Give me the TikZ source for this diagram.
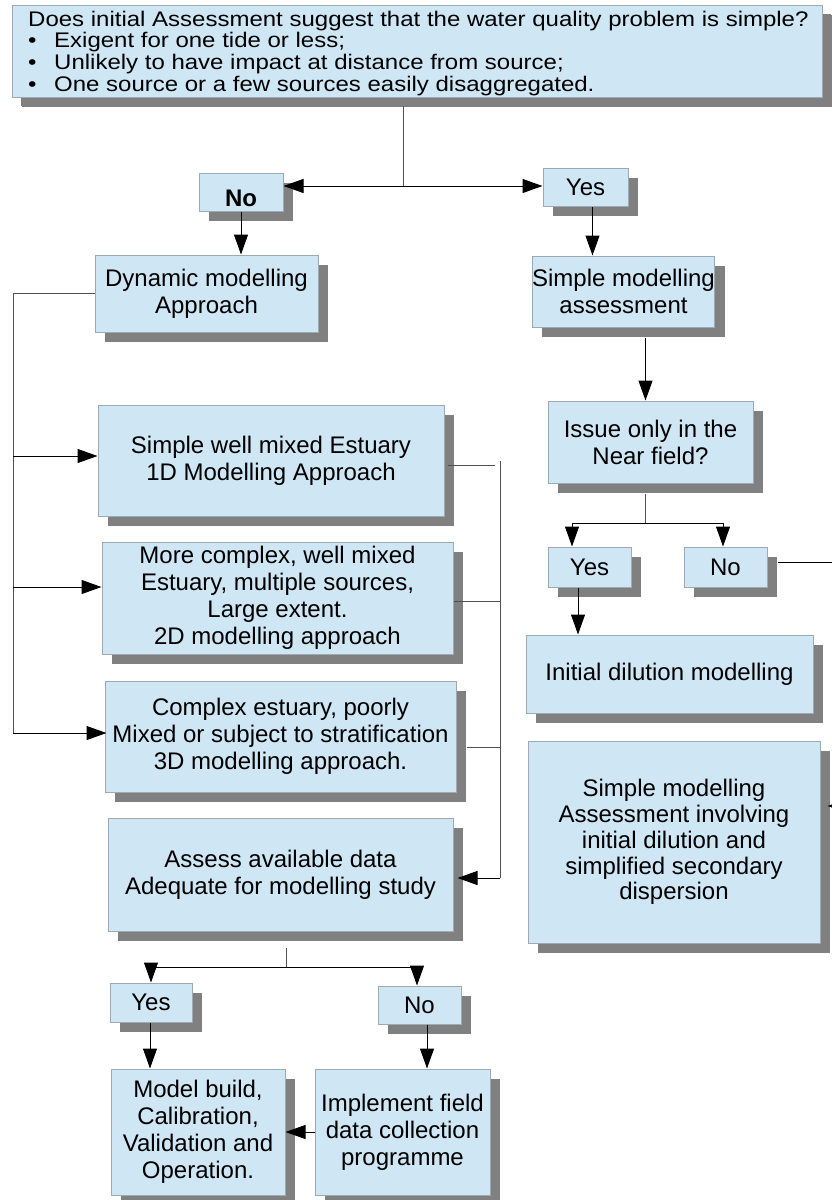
\documentclass[tikz,border=0pt]{standalone}
\usepackage{fontspec}
\usepackage{graphicx}
\setmainfont{Liberation Sans}
\usetikzlibrary{shadows,arrows.meta}
\definecolor{boxfill}{HTML}{CFE6F4}
\definecolor{boxline}{HTML}{9DA9B3}
\definecolor{shade}{HTML}{808080}
\definecolor{linegray}{HTML}{505050}
\begin{document}
\begin{tikzpicture}[x=1pt,y=-1pt,
  box/.style={draw=boxline, fill=boxfill, line width=1pt, inner sep=0pt, align=center,
    font=\fontsize{24}{27}\selectfont,
    drop shadow={shadow xshift=10pt, shadow yshift=-10pt, fill=shade, opacity=1}},
  arr/.style={-{Triangle[length=20pt,width=14pt]}, black, line width=1pt},
  ln/.style={draw=linegray, line width=1pt},
  ]
\useasboundingbox (0,0) rectangle (832,1200);
% boxes
\node[box, minimum width=810, minimum height=92, drop shadow={shadow xshift=9pt, shadow yshift=-9pt, fill=shade, opacity=1}] (top) at (417,51) {};
\node[anchor=north west, inner sep=0pt, font=\fontsize{24}{24.2}\selectfont] (toptext) at (28,10.5)
  {\scalebox{1}[0.88]{\begin{tabular}{@{}l@{}}
   Does initial Assessment suggest that the water quality problem is simple?\\
   \makebox[26pt][l]{\textbullet}Exigent for one tide or less;\\
   \makebox[26pt][l]{\textbullet}Unlikely to have impact at distance from source;\\
   \makebox[26pt][l]{\textbullet}One source or a few sources easily disaggregated.
   \end{tabular}}};
\node[box, minimum width=84, minimum height=38] (no1) at (241,192) {\raisebox{-14pt}[0pt][0pt]{\textbf{No}}};
\node[box, minimum width=85, minimum height=38] (yes1) at (585.5,187) {Yes};
\node[box, minimum width=223, minimum height=77] (dyn) at (206.5,293.5) {Dynamic modelling\\Approach};
\node[box, minimum width=181, minimum height=71] (sma) at (623.5,291.5) {Simple modelling\\assessment};
\node[box, minimum width=205, minimum height=82] (issue) at (650.5,442) {Issue only in the\\Near field?};
\node[box, minimum width=83, minimum height=40] (yes2) at (589.5,567) {Yes};
\node[box, minimum width=83, minimum height=40] (no2) at (725.5,567) {No};
\node[box, minimum width=287, minimum height=78] (init) at (669.5,674) {Initial dilution modelling};
\node[box, minimum width=292, minimum height=202, font=\fontsize{24}{25.8}\selectfont] (sma2) at (674,842) {Simple modelling\\Assessment involving\\initial dilution and\\simplified secondary\\dispersion};
\node[box, minimum width=346, minimum height=111] (d1) at (271,460.5) {Simple well mixed Estuary\\1D Modelling Approach};
\node[box, minimum width=351, minimum height=112] (d2) at (277.5,598) {More complex, well mixed\\Estuary, multiple sources,\\Large extent.\\2D modelling approach};
\node[box, minimum width=351, minimum height=111] (d3) at (280.5,736.5) {Complex estuary, poorly\\Mixed or subject to stratification\\3D modelling approach.};
\node[box, minimum width=345, minimum height=113] (assess) at (280.5,874.5) {Assess available data\\Adequate for modelling study};
\node[box, minimum width=82, minimum height=39] (yes3) at (151,1002.5) {Yes};
\node[box, minimum width=83, minimum height=38] (no3) at (419.5,1005) {No};
\node[box, minimum width=174, minimum height=126] (model) at (198,1132) {Model build,\\Calibration,\\Validation and\\Operation.};
\node[box, minimum width=175, minimum height=126] (impl) at (402.5,1132) {Implement field\\data collection\\programme};
% junction coordinates
\coordinate (t0) at (403,106);
\coordinate (j1) at (403,186);
\coordinate (j2) at (645,523);
\coordinate (j3) at (286,967);
\coordinate (L1) at (13,456);
\coordinate (L2) at (13,587);
\coordinate (L3) at (13,733);
\coordinate (R0) at (500,461);
\coordinate (R4) at (500,878);
\coordinate (c1) at (845,562);
\coordinate (c2) at (845,806);
% connectors
\draw[ln] (t0) -- (j1);
\draw[arr] (j1) -- (j1 -| no1.east);
\draw[arr] (j1) -- (j1 -| yes1.west);
\draw[arr] (no1.south) -- (dyn.north -| no1.south);
\draw[arr] ([xshift=7pt]yes1.south) -- ([xshift=7pt]yes1.south |- sma.north);
\draw[arr] ([xshift=22pt,yshift=-10pt]sma.south) -- ([xshift=22pt]sma.south |- issue.north);
\draw[ln] ([yshift=-10pt]issue.south -| j2) -- (j2);
\draw[arr] (j2) -| ([xshift=-17.5pt]yes2.north);
\draw[arr] (j2) -| ([xshift=-2.5pt]no2.north);
\draw[arr] ([xshift=-11.5pt]yes2.south) -- ([xshift=-11.5pt]yes2.south |- init.north);
\draw[arr] ([xshift=10pt,yshift=5pt]no2.east) -- (c1) -- (c2) -- ([xshift=7pt]sma2.east |- c2);
\draw[ln] (dyn.west) -| (L3);
\draw[arr] (L1) -- (L1 -| d1.west);
\draw[arr] (L2) -- (L2 -| d2.west);
\draw[arr] (L3) -- ([xshift=2pt]L3 -| d3.west);
\draw[ln] ([xshift=3pt,yshift=-4.5pt]d1.east) -- ([xshift=-5pt,yshift=-4.5pt]d1.east -| R0);
\draw[ln] ([yshift=-3pt]d2.east) -- ([yshift=-3pt]d2.east -| R0);
\draw[ln] ([xshift=10pt,yshift=-10.5pt]d3.east) -- ([yshift=-10.5pt]d3.east -| R0);
\draw[ln] (R0) -- (R4);
\draw[arr] (R4) -- ([xshift=4pt]R4 -| assess.east);
\draw[ln] ([yshift=-16pt]assess.south -| j3) -- (j3);
\draw[arr] (j3) -| (yes3.north);
\draw[arr] (j3) -| ([xshift=-2.5pt]no3.north);
\draw[arr] ([xshift=-1pt]yes3.south) -- ([xshift=-1pt]yes3.south |- model.north);
\draw[arr] ([xshift=7.5pt]no3.south) -- ([xshift=7.5pt]no3.south |- impl.north);
\draw[arr] (impl.west) -- (model.east);
\end{tikzpicture}
\end{document}
